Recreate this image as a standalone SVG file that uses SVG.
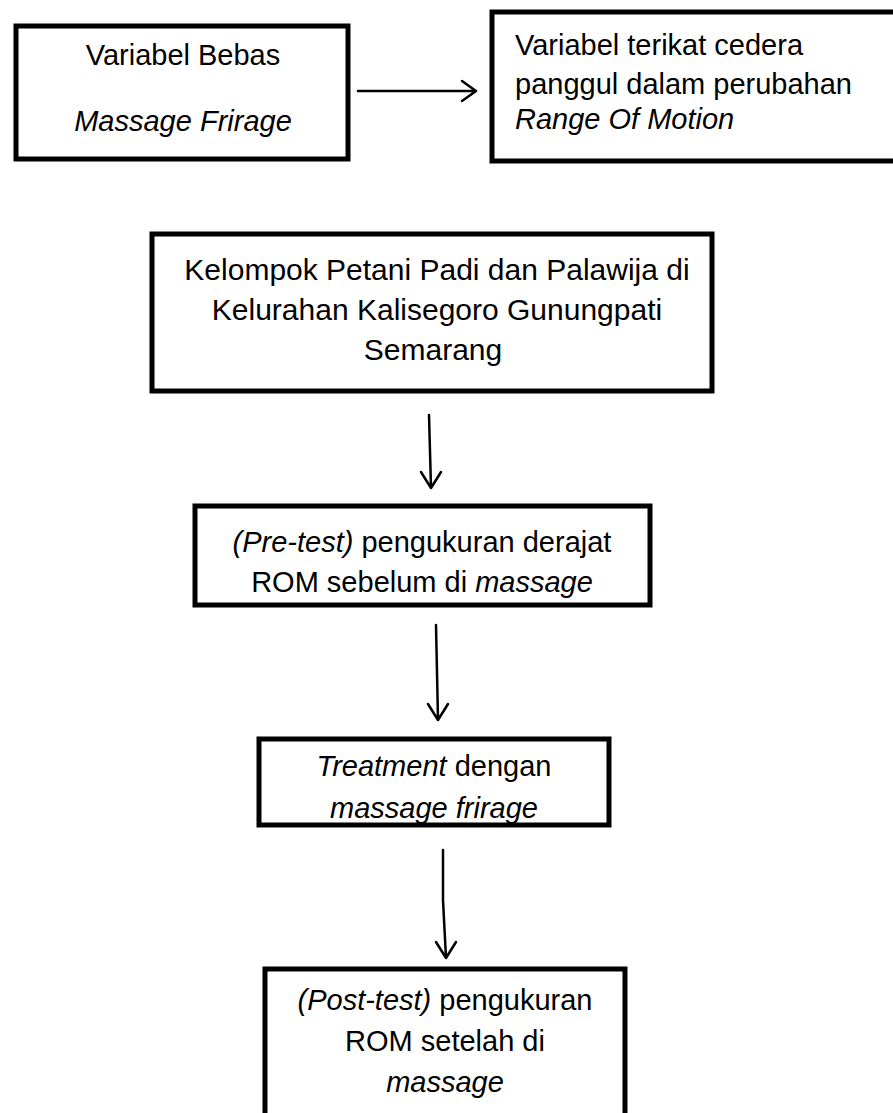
<svg xmlns="http://www.w3.org/2000/svg" width="893" height="1113" viewBox="0 0 893 1113">
<style>
.box{fill:#fff;stroke:#000;stroke-width:5}
.t{font-family:"Liberation Sans",Arial,sans-serif;font-size:29px;fill:#000}
.c{text-anchor:middle}
.i{font-style:italic}
.big{font-size:30px}
.con{fill:none;stroke:#000;stroke-width:2.5;stroke-linecap:round;stroke-linejoin:round}
</style>
<g id="n1">
<rect class="box" x="16" y="26" width="332" height="133"/>
<text class="t c" x="183" y="65">Variabel Bebas</text>
<text class="t c i" x="183" y="131">Massage Frirage</text>
</g>
<g id="n2">
<rect class="box" x="492" y="12" width="405" height="149"/>
<text class="t" x="515" y="55">Variabel terikat cedera</text>
<text class="t" x="515" y="94">panggul dalam perubahan</text>
<text class="t i" x="515" y="129">Range Of Motion</text>
</g>
<g id="n3">
<rect class="box" x="152" y="234" width="560" height="157"/>
<text class="t c big" x="437" y="280">Kelompok Petani Padi dan Palawija di</text>
<text class="t c big" x="437" y="320">Kelurahan Kalisegoro Gunungpati</text>
<text class="t c big" x="433" y="360">Semarang</text>
</g>
<g id="n4">
<rect class="box" x="195" y="506" width="455" height="99"/>
<text class="t c" x="422" y="552"><tspan class="i">(Pre-test)</tspan> pengukuran derajat</text>
<text class="t c" x="422" y="592">ROM sebelum di <tspan class="i">massage</tspan></text>
</g>
<g id="n5">
<rect class="box" x="259" y="739" width="350" height="86"/>
<text class="t c" x="434" y="776"><tspan class="i">Treatment</tspan> dengan</text>
<text class="t c" x="434" y="818"><tspan class="i">massage frirage</tspan></text>
</g>
<g id="n6">
<rect class="box" x="265" y="969" width="360" height="160"/>
<text class="t c" x="445" y="1010"><tspan class="i">(Post-test)</tspan> pengukuran</text>
<text class="t c" x="445" y="1051">ROM setelah di</text>
<text class="t c i" x="445" y="1092">massage</text>
</g>
<g id="connectors">
<path class="con" d="M358 91 L476 91 M462 81 L476 91 L462 101"/>
<path class="con" d="M429 415 L431 488 M421 472 L431 488 L441 472"/>
<path class="con" d="M436 625 L438 720 M428 704 L438 720 L448 704"/>
<path class="con" d="M443 850 L443 900 L446 958 M436 942 L446 958 L456 942"/>
</g>
</svg>
